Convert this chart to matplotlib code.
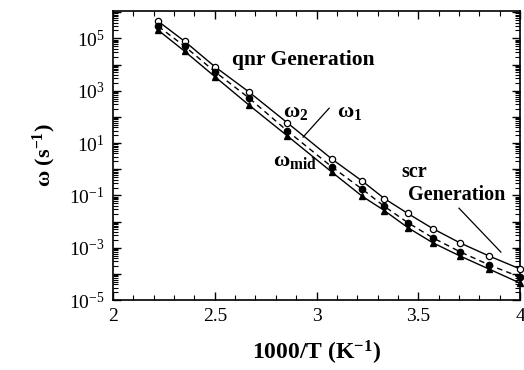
import numpy as np
import matplotlib
matplotlib.use("Agg")
import matplotlib.pyplot as plt
from matplotlib.ticker import LogLocator, FixedLocator, MultipleLocator, FuncFormatter, NullFormatter

plt.rcParams['font.family'] = ['Liberation Serif', 'DejaVu Serif']
plt.rcParams['mathtext.fontset'] = 'custom'
plt.rcParams['mathtext.rm'] = 'Liberation Serif'
plt.rcParams['mathtext.bf'] = 'Liberation Serif:bold'
plt.rcParams['mathtext.it'] = 'Liberation Serif:italic'

# 1000/T values (T = 450 ... 250 K)
temps = [450, 425, 400, 375, 350, 325, 310, 300, 290, 280, 270, 260, 250]
x_vals = [1000.0 / t for t in temps]
# log10 of rates
log_w1 = [5.65, 4.88, 3.92, 2.96, 1.77, 0.38, -0.46, -1.12, -1.69, -2.27, -2.81, -3.31, -3.81]
log_wmid = [5.46, 4.69, 3.73, 2.73, 1.46, 0.08, -0.77, -1.42, -2.04, -2.62, -3.15, -3.65, -4.12]
log_w2 = [5.31, 4.50, 3.54, 2.46, 1.27, -0.12, -1.04, -1.58, -2.23, -2.81, -3.31, -3.81, -4.35]

w1 = [10 ** v for v in log_w1]
wmid = [10 ** v for v in log_wmid]
w2 = [10 ** v for v in log_w2]

fig = plt.figure(figsize=(5.24, 3.70), dpi=100)
ax = fig.add_axes([0.2157, 0.189, 0.7767, 0.781])

ax.plot(x_vals, w1, '-', color='black', lw=1.0, marker='o', mfc='white', mec='black',
        ms=4.5, mew=0.9, clip_on=False, zorder=3)
ax.plot(x_vals, wmid, '--', color='black', lw=1.0, dashes=(4, 3), marker='o', mfc='black',
        mec='black', ms=4.5, clip_on=False, zorder=3)
ax.plot(x_vals, w2, '-', color='black', lw=1.0, marker='^', mfc='black', mec='black', ms=4.5,
        clip_on=False, zorder=3)

ax.set_yscale('log')
ax.set_xlim(2, 4)
ax.set_ylim(1e-5, 1.1e6)

ax.xaxis.set_major_locator(MultipleLocator(0.5))
ax.xaxis.set_minor_locator(MultipleLocator(0.1))
ax.xaxis.set_major_formatter(FuncFormatter(lambda v, p: ('%g' % v)))

ax.yaxis.set_major_locator(FixedLocator([10.0 ** k for k in range(-5, 7)]))
ax.yaxis.set_minor_locator(LogLocator(base=10, subs=np.arange(2, 10), numticks=30))
ax.yaxis.set_minor_formatter(NullFormatter())

def yfmt(v, p):
    k = int(round(np.log10(v)))
    if k % 2 != 0:
        return r'$\mathregular{10^{%d}}$' % k
    return ''
ax.yaxis.set_major_formatter(FuncFormatter(yfmt))

ax.tick_params(which='both', direction='in', top=True, right=True, colors='black')
ax.tick_params(which='major', length=6, width=1.0, labelsize=14, pad=6)
ax.tick_params(which='minor', length=3.5, width=0.8)
for s in ax.spines.values():
    s.set_linewidth(1.2)

ax.set_xlabel(r'1000/T (K$\mathbf{^{-1}}$)', fontsize=17, fontweight='bold', labelpad=10)
ax.set_ylabel(r'$\mathbf{ω}$ (s$\mathbf{^{-1}}$)', fontsize=16, fontweight='bold', labelpad=8)

ax.text(0.292, 0.830, 'qnr Generation', transform=ax.transAxes, fontsize=15.5,
        fontweight='bold', ha='left', va='center')
ax.text(0.418, 0.65, r'$\mathbf{ω_{2}}$', transform=ax.transAxes, fontsize=16,
        ha='left', va='center')
ax.text(0.550, 0.65, r'$\mathbf{ω_{1}}$', transform=ax.transAxes, fontsize=16,
        ha='left', va='center')
ax.text(0.393, 0.48, r'$\mathbf{ω_{mid}}$', transform=ax.transAxes, fontsize=16,
        ha='left', va='center')
ax.text(0.708, 0.443, 'scr', transform=ax.transAxes, fontsize=14.5,
        fontweight='bold', ha='left', va='center')
ax.text(0.725, 0.363, 'Generation', transform=ax.transAxes, fontsize=14.5,
        fontweight='bold', ha='left', va='center')

# leader lines (axes fraction)
ax.plot([0.531, 0.467], [0.664, 0.564], color='black', lw=0.9, transform=ax.transAxes)
ax.plot([0.850, 0.953], [0.318, 0.166], color='black', lw=0.9, transform=ax.transAxes)

fig.savefig('out.png', dpi=100)
